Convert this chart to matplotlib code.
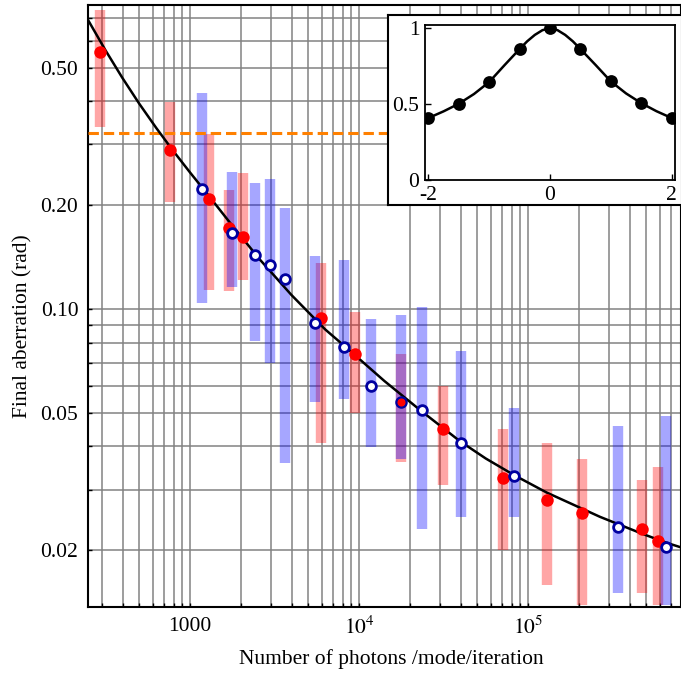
import numpy as np
import matplotlib.pyplot as plt
from matplotlib.ticker import FixedLocator, FixedFormatter, NullFormatter

plt.rcParams['font.family'] = ['Liberation Serif', 'DejaVu Serif']
plt.rcParams['mathtext.fontset'] = 'stix'
plt.rcParams['font.size'] = 15.5

# red series (filled dots) with their spread
red_x = [294, 762, 1295, 1701, 2067, 5918, 9470, 31200, 70650, 130100, 208700, 470800, 590200]
red_y = [0.557, 0.289, 0.208, 0.172, 0.162, 0.094, 0.0739, 0.0449, 0.0324, 0.0279, 0.0257, 0.0230, 0.0213]
red_lo = [0.338, 0.205, 0.1135, 0.1128, 0.1214, 0.0408, 0.0499, 0.0309, 0.0200, 0.0159, 0.0139, 0.0150, 0.0139]
red_hi = [0.736, 0.399, 0.322, 0.222, 0.248, 0.1357, 0.0982, 0.0598, 0.0449, 0.0408, 0.0369, 0.0319, 0.0349]

# red point sitting inside a blue circle
red2_x = [17720]
red2_y = [0.0538]
red2_lo = [0.0361]
red2_hi = [0.0739]

# blue series (open circles)
blue_x = [1173, 1779, 2424, 2954, 3659, 5469, 8150, 11780, 17720, 23590, 40140, 82630, 338500, 655400]
blue_y = [0.2228, 0.1664, 0.1434, 0.1342, 0.122, 0.0909, 0.0777, 0.0598, 0.0538, 0.0509, 0.0408, 0.0328, 0.0234, 0.02045]
blue_lo = [0.1039, 0.1161, 0.0809, 0.0699, 0.0359, 0.0538, 0.0548, 0.0399, 0.0369, 0.0230, 0.0250, 0.0250, 0.0150, 0.0139]
blue_hi = [0.4239, 0.2493, 0.2324, 0.2378, 0.1967, 0.1425, 0.1387, 0.0935, 0.0961, 0.1016, 0.0755, 0.0517, 0.0458, 0.0489]

# black fit curve
curve_x = [249, 316, 398, 501, 631, 794, 1000, 1259, 1778, 2596, 3981, 6310, 8846,
           14125, 22960, 39600, 56234, 82985, 129000, 266700, 470800, 661600, 804000]
curve_y = [0.689, 0.5624, 0.4677, 0.3936, 0.3350, 0.2877, 0.2489, 0.2163, 0.1746, 0.1390,
           0.1099, 0.0873, 0.0757, 0.0619, 0.0510, 0.0414, 0.0369, 0.0330, 0.0294, 0.0250,
           0.02236, 0.02102, 0.02039]

threshold = 0.324

# inset
inset_x = [-2, -1.5, -1, -0.5, 0, 0.5, 1, 1.5, 2]
inset_y = [0.408, 0.50, 0.645, 0.862, 1.0, 0.862, 0.649, 0.506, 0.408]
inset_cx = [-2, -1.75, -1.5, -1.25, -1, -0.75, -0.5, -0.375, -0.25, -0.125, 0,
            0.125, 0.25, 0.375, 0.5, 0.75, 1, 1.25, 1.5, 1.75, 2]
inset_cy = [0.408, 0.452, 0.502, 0.566, 0.645, 0.755, 0.862, 0.913, 0.955, 0.986, 1.0,
            0.986, 0.955, 0.913, 0.862, 0.757, 0.649, 0.570, 0.506, 0.453, 0.408]

xmaj = [1000, 1e4, 1e5]
xmaj_lab = ['1000', '$10^4$', '$10^5$']
ymaj = [0.02, 0.05, 0.1, 0.2, 0.5]
ymaj_lab = ['0.02', '0.05', '0.10', '0.20', '0.50']

fig = plt.figure(figsize=(6.81, 6.73), dpi=100)
ax = fig.add_axes([0.1292, 0.0981, 0.8708, 0.8945])
ax.set_xscale('log')
ax.set_yscale('log')
ax.set_xlim(249, 8.04e5)
ax.set_ylim(0.0137, 0.761)

xmin = [m * 10**e for e in range(2, 6) for m in range(2, 10) if m * 10**e not in xmaj]
ymin = [m * 10.0**e for e in range(-2, 0) for m in range(1, 10)]
ymin = [v for v in ymin if not any(abs(v - t) < 1e-9 for t in ymaj)]
ax.xaxis.set_major_locator(FixedLocator(xmaj))
ax.xaxis.set_major_formatter(FixedFormatter(xmaj_lab))
ax.xaxis.set_minor_locator(FixedLocator(xmin))
ax.xaxis.set_minor_formatter(NullFormatter())
ax.yaxis.set_major_locator(FixedLocator(ymaj))
ax.yaxis.set_major_formatter(FixedFormatter(ymaj_lab))
ax.yaxis.set_minor_locator(FixedLocator(ymin))
ax.yaxis.set_minor_formatter(NullFormatter())

ax.grid(True, which='both', color='#828282', lw=1.1)
ax.set_axisbelow(True)
ax.tick_params(which='both', direction='in', length=3, width=1, pad=7)
for s in ax.spines.values():
    s.set_linewidth(1.5)

ax.vlines(red_x, red_lo, red_hi, colors='red', alpha=0.35, lw=7.5, capstyle='butt', zorder=2)
ax.vlines(red2_x, red2_lo, red2_hi, colors='red', alpha=0.35, lw=7.5, capstyle='butt', zorder=2)
ax.vlines(blue_x, blue_lo, blue_hi, colors='blue', alpha=0.35, lw=7.5, capstyle='butt', zorder=2.1)

ax.axhline(threshold, color='#ff8000', lw=2.2, dashes=(3.4, 1.6), zorder=3)
ax.plot(curve_x, curve_y, color='black', lw=1.8, zorder=3)
ax.plot(red_x, red_y, 'o', color='red', ms=9.0, mew=0, zorder=4)
ax.plot(blue_x, blue_y, 'o', mfc='white', mec='#0000a0', ms=7.0, mew=2.0, zorder=5)
ax.plot(red2_x, red2_y, 'o', color='red', ms=5.8, mew=0, zorder=6)

ax.set_xlabel('Number of photons /mode/iteration')
ax.set_ylabel('Final aberration (rad)')
ax.xaxis.set_label_coords(0.511, -0.07)
ax.yaxis.set_label_coords(-0.094, 0.467)

# inset frame and inset axes
box = fig.add_axes([0.5698, 0.6954, 0.4310, 0.2823])
box.set_xticks([])
box.set_yticks([])
box.set_facecolor('white')
for s in box.spines.values():
    s.set_linewidth(1.5)

ins = fig.add_axes([0.6241, 0.7325, 0.3671, 0.2303])
ins.set_xlim(-2.055, 2.055)
ins.set_ylim(0, 1.02)
ins.set_xticks([-2, 0, 2])
ins.set_xticklabels(['-2', '0', '2'])
ins.set_yticks([0, 0.5, 1])
ins.set_yticklabels(['0', '0.5', '1'])
ins.tick_params(direction='in', length=4.5, width=1, pad=4)
for s in ins.spines.values():
    s.set_linewidth(1.3)
ins.plot(inset_cx, inset_cy, color='black', lw=1.8)
ins.plot(inset_x, inset_y, 'o', color='black', ms=9.2, mew=0)

fig.savefig('out.png', dpi=100)
